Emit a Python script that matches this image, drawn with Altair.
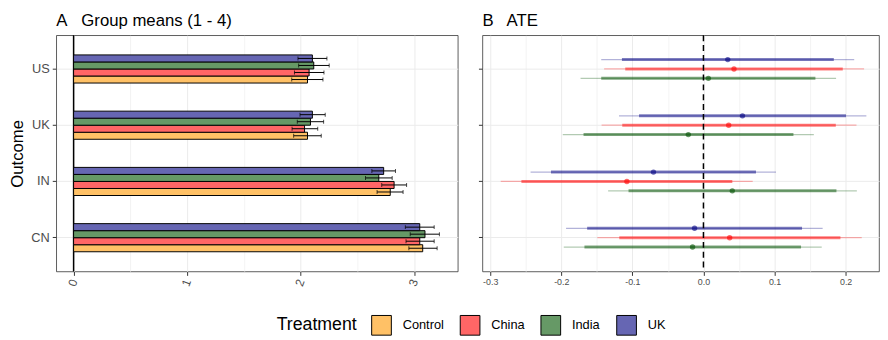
import altair as alt
import pandas as pd

FONT = "Liberation Sans"

outcomes = ["US", "UK", "IN", "CN"]
treatments = ["Control", "China", "India", "UK"]

# Panel A: group means with CI bounds (outcome order: US, UK, IN, CN)
mean_control = [2.061, 2.061, 2.790, 3.076]
lo_control = [1.922, 1.939, 2.674, 2.954]
hi_control = [2.197, 2.182, 2.903, 3.203]
mean_china = [2.075, 2.035, 2.824, 3.050]
lo_china = [1.946, 1.925, 2.715, 2.929]
hi_china = [2.206, 2.151, 2.934, 3.177]
mean_india = [2.116, 2.087, 2.689, 3.096]
lo_india = [1.983, 1.971, 2.572, 2.966]
hi_india = [2.252, 2.203, 2.807, 3.223]
mean_uk = [2.104, 2.104, 2.732, 3.050]
lo_uk = [1.977, 1.995, 2.628, 2.923]
hi_uk = [2.232, 2.217, 2.836, 3.177]

# Panel B: ATE with 90% (thick) and 95% (thin) intervals
ate_china = [0.0430, 0.0355, -0.1077, 0.0369]
lo90_china = [-0.110, -0.1142, -0.2561, -0.1184]
hi90_china = [0.196, 0.1862, 0.0406, 0.1927]
lo95_china = [-0.1397, -0.1433, -0.2852, -0.1493]
hi95_china = [0.226, 0.2153, 0.0693, 0.2227]
ate_india = [0.0069, -0.0213, 0.0406, -0.0153]
lo90_india = [-0.1438, -0.1687, -0.1054, -0.1674]
hi90_india = [0.1575, 0.1266, 0.1871, 0.1373]
lo95_india = [-0.1729, -0.1979, -0.1341, -0.1965]
hi95_india = [0.1866, 0.1553, 0.2158, 0.1664]
ate_uk = [0.0342, 0.0549, -0.0703, -0.0125]
lo90_uk = [-0.1147, -0.0906, -0.2145, -0.1636]
hi90_uk = [0.1834, 0.2005, 0.0739, 0.1387]
lo95_uk = [-0.1438, -0.1188, -0.2432, -0.1933]
hi95_uk = [0.2121, 0.2292, 0.1021, 0.1677]

zero_line = [0]

bar_colors = ["#FFC166", "#FF6666", "#669966", "#6666B3"]
outline_colors = ["black", "black", "black", "black"]
base_colors = ["#FF9900", "#FF0000", "#005000", "#000080"]

rows_a = []
for t, m, lo, hi in [("Control", mean_control, lo_control, hi_control),
                     ("China", mean_china, lo_china, hi_china),
                     ("India", mean_india, lo_india, hi_india),
                     ("UK", mean_uk, lo_uk, hi_uk)]:
    for i, o in enumerate(outcomes):
        rows_a.append({"Outcome": o, "Treatment": t, "mean": m[i], "lo": lo[i], "hi": hi[i]})
df_a = pd.DataFrame(rows_a)

rows_b = []
for t, m, l9, h9, l5, h5 in [("China", ate_china, lo90_china, hi90_china, lo95_china, hi95_china),
                             ("India", ate_india, lo90_india, hi90_india, lo95_india, hi95_india),
                             ("UK", ate_uk, lo90_uk, hi90_uk, lo95_uk, hi95_uk)]:
    for i, o in enumerate(outcomes):
        rows_b.append({"Outcome": o, "Treatment": t, "ate": m[i], "lo90": l9[i], "hi90": h9[i],
                       "lo95": l5[i], "hi95": h5[i]})
df_b = pd.DataFrame(rows_b)
df_zero = pd.DataFrame({"v": zero_line})

yscale = alt.Scale(domain=outcomes, paddingInner=0.5, paddingOuter=0.35)

grid_common = dict(gridColor="#EBEBEB", tickColor="#333333", tickSize=4, domain=False)

y_left = alt.Y("Outcome:N", scale=yscale,
               axis=alt.Axis(title="Outcome", bandPosition=0.5, grid=True, labelFontSize=13,
                             labelColor="#4D4D4D", labelPadding=3, titleFontSize=17,
                             titleFontWeight="normal", titleColor="black", titlePadding=4,
                             **grid_common))
y_right = alt.Y("Outcome:N", scale=yscale,
                axis=alt.Axis(title=None, labels=False, bandPosition=0.5, grid=True, **grid_common))

minor_a = "abs(datum.value - round(datum.value)) > 0.001"
x_left_axis = alt.Axis(
    title=None, values=[0, 0.5, 1, 1.5, 2, 2.5, 3], grid=True,
    labelExpr=f"{minor_a} ? '' : format(datum.value, 'd')",
    tickOpacity={"condition": {"test": minor_a, "value": 0}, "value": 1},
    gridWidth={"condition": {"test": minor_a, "value": 0.6}, "value": 1},
    labelAngle=-70, labelAlign="right", labelBaseline="middle", labelFontSize=12,
    labelColor="#4D4D4D", labelPadding=4, **grid_common)
x_left_scale = alt.Scale(domain=[-0.153, 3.385], nice=False, zero=False)

yoff_a = alt.YOffset("Treatment:N", scale=alt.Scale(domain=["UK", "India", "China", "Control"],
                                                     paddingInner=0, paddingOuter=0))
legend_a = alt.Legend(title="Treatment", orient="none", direction="horizontal",
                      titleOrient="left", symbolType="square", symbolSize=400,
                      symbolStrokeWidth=1, symbolOpacity=1,
                      labelFontSize=13, labelColor="black", titleFontSize=18,
                      titleFontWeight="normal", titleColor="black", titlePadding=14,
                      labelOffset=11, columnPadding=14, padding=0,
                      legendX=224, legendY=284)
fill_a = alt.Fill("Treatment:N", scale=alt.Scale(domain=treatments, range=bar_colors), legend=legend_a)
stroke_a = alt.Stroke("Treatment:N", scale=alt.Scale(domain=treatments, range=outline_colors), legend=legend_a)

base_a = alt.Chart(df_a)
bars = base_a.mark_bar(strokeWidth=1).encode(
    x=alt.X("mean:Q", scale=x_left_scale, axis=x_left_axis), x2=alt.datum(0),
    y=y_left, yOffset=yoff_a, fill=fill_a, stroke=stroke_a)
err = base_a.mark_rule(color="black", strokeWidth=1).encode(
    x="lo:Q", x2="hi:Q", y=y_left, yOffset=yoff_a)
cap_lo = base_a.mark_tick(color="black", thickness=1, size=4).encode(
    x="lo:Q", y=y_left, yOffset=yoff_a)
cap_hi = base_a.mark_tick(color="black", thickness=1, size=4).encode(
    x="hi:Q", y=y_left, yOffset=yoff_a)
vline_a = alt.Chart(df_zero).mark_rule(color="black", strokeWidth=1.5).encode(x="v:Q")

left = alt.layer(vline_a, bars, err, cap_lo, cap_hi).properties(
    width=408, height=240,
    title=alt.TitleParams("A\u00a0\u00a0 Group means (1 - 4)", anchor="start", frame="group",
                          fontSize=17, fontWeight="normal", color="black", font=FONT, offset=5))

x_right_scale = alt.Scale(domain=[-0.311, 0.247], nice=False, zero=False)
major_test = "abs(datum.value*10 - round(datum.value*10)) > 0.001"
x_right_axis = alt.Axis(
    title=None, values=[-0.3, -0.25, -0.2, -0.15, -0.1, -0.05, 0, 0.05, 0.1, 0.15, 0.2], grid=True,
    labelExpr=f"{major_test} ? '' : replace(format(datum.value, '.1f'), '\u2212', '-')",
    tickOpacity={"condition": {"test": major_test, "value": 0}, "value": 1},
    gridWidth={"condition": {"test": major_test, "value": 0.6}, "value": 1},
    labelFontSize=9, labelColor="#4D4D4D", labelPadding=2, labelAngle=0, **grid_common)

yoff_b = alt.YOffset("Treatment:N", scale=alt.Scale(domain=["UK", "China", "India"],
                                                     paddingInner=0, paddingOuter=0))
col_b = alt.Color("Treatment:N", scale=alt.Scale(domain=treatments, range=base_colors), legend=None)

base_b = alt.Chart(df_b)
thin = base_b.mark_rule(strokeWidth=1.3, opacity=0.3).encode(
    x=alt.X("lo95:Q", scale=x_right_scale, axis=x_right_axis), x2="hi95:Q",
    y=y_right, yOffset=yoff_b, color=col_b)
thick = base_b.mark_rule(strokeWidth=3, opacity=0.5).encode(
    x="lo90:Q", x2="hi90:Q", y=y_right, yOffset=yoff_b, color=col_b)
pts = base_b.mark_circle(size=30, opacity=0.6).encode(
    x="ate:Q", y=y_right, yOffset=yoff_b, color=col_b)
vline_b = alt.Chart(df_zero).mark_rule(color="black", strokeWidth=1.5, strokeDash=[6, 4]).encode(x="v:Q")

right = alt.layer(thin, thick, pts, vline_b).properties(
    width=403, height=240,
    title=alt.TitleParams("B\u00a0\u00a0 ATE", anchor="start", frame="group",
                          fontSize=17, fontWeight="normal", color="black", font=FONT, offset=5))

chart = alt.hconcat(left, right, spacing=19).resolve_scale(
    x="independent", yOffset="independent", color="independent"
).properties(
    padding={"left": 0, "top": 0, "right": 0, "bottom": 0}, background="white"
).configure_view(stroke="#333333", strokeWidth=0.8).configure_axis(
    labelFont=FONT, titleFont=FONT
).configure_legend(labelFont=FONT, titleFont=FONT).configure_title(font=FONT)

chart.save("out.html", embed_options={"renderer": "svg", "actions": False})
